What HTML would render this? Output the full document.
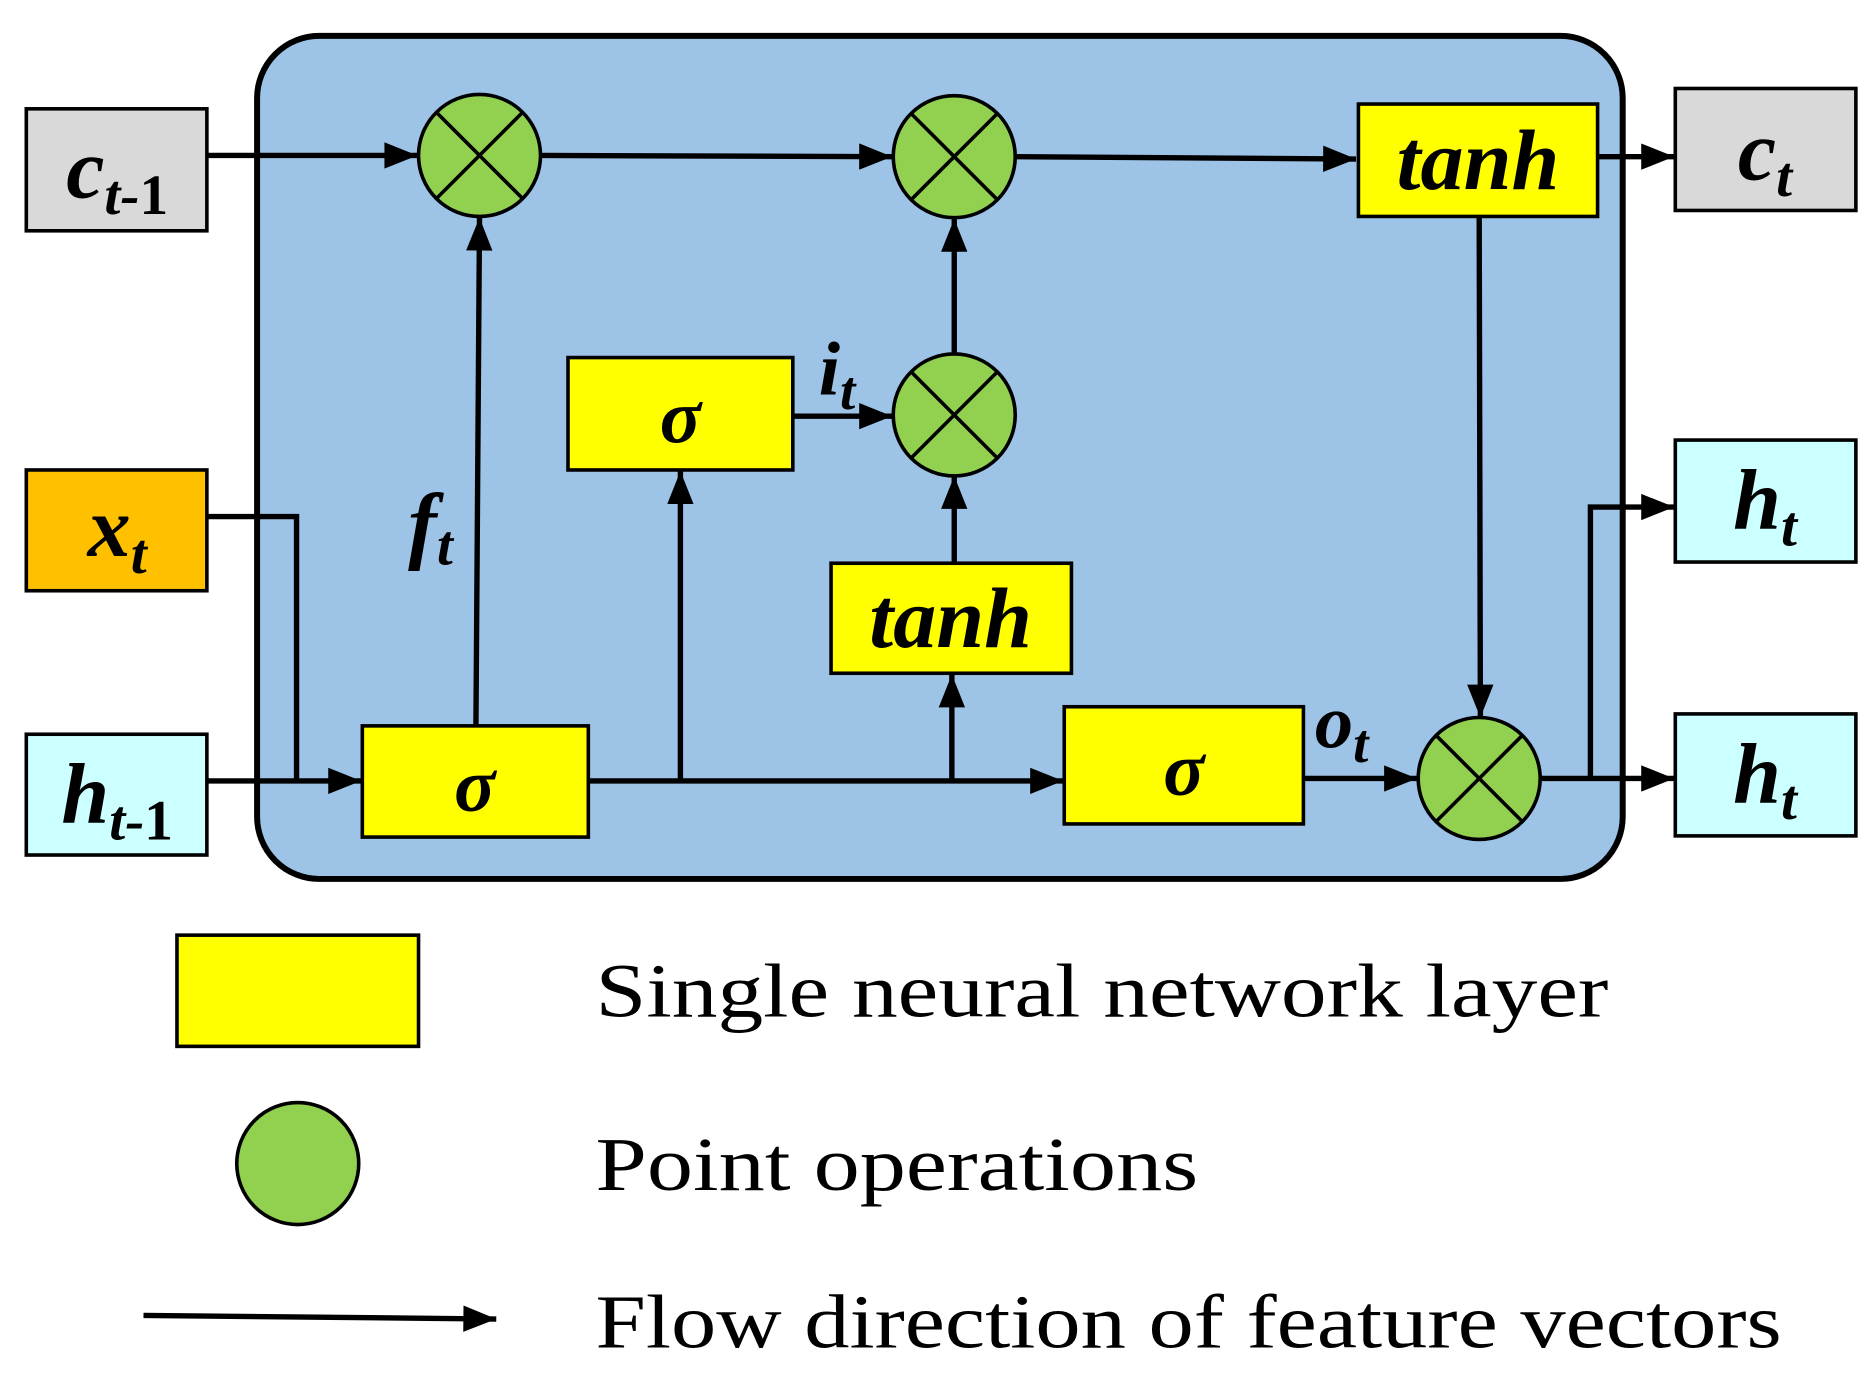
<!DOCTYPE html>
<html><head><style>html,body{margin:0;padding:0;background:#fff}svg{display:block}</style></head>
<body>
<svg width="1875" height="1380" viewBox="0 0 1568 1154" preserveAspectRatio="none" xmlns="http://www.w3.org/2000/svg">
<defs>
<marker id="b" viewBox="0 0 10 8" refX="10" refY="4" markerWidth="32" markerHeight="22" orient="auto" markerUnits="userSpaceOnUse"><path d="M0,0L10,4L0,8z" fill="#000"/></marker></defs>
<rect x="215" y="30" width="1142" height="705" rx="52" fill="#9DC3E6" stroke="#000" stroke-width="5"/>
<g stroke="#000" stroke-width="3">
<rect x="22" y="91" width="151" height="102" fill="#D9D9D9"/>
<rect x="22" y="393" width="151" height="101" fill="#FFC000"/>
<rect x="22" y="614" width="151" height="101" fill="#CCFFFF"/>
<rect x="1401" y="74" width="151" height="102" fill="#D9D9D9"/>
<rect x="1401" y="368" width="151" height="102" fill="#CCFFFF"/>
<rect x="1401" y="597" width="151" height="102" fill="#CCFFFF"/>
<rect x="1136" y="87" width="200" height="94" fill="#FFFF00"/>
<rect x="475" y="299" width="188" height="94" fill="#FFFF00"/>
<rect x="695" y="471" width="201" height="92" fill="#FFFF00"/>
<rect x="303" y="607" width="189" height="93" fill="#FFFF00"/>
<rect x="890" y="591" width="200" height="98" fill="#FFFF00"/>
<rect x="148" y="782" width="202" height="93" fill="#FFFF00"/>
</g>
<g fill="none" stroke="#000" stroke-width="4.5">
<path d="M173,130H349" marker-end="url(#b)"/>
<path d="M452,130L746,131" marker-end="url(#b)"/>
<path d="M849,131L1134,133" marker-end="url(#b)"/>
<path d="M1336,131H1400" marker-end="url(#b)"/>
<path d="M1237,181L1238,600" marker-end="url(#b)"/>
<path d="M173,432H248V654"/>
<path d="M173,653H302" marker-end="url(#b)"/>
<path d="M398,607L401,182" marker-end="url(#b)"/>
<path d="M492,653H889" marker-end="url(#b)"/>
<path d="M569,653V394" marker-end="url(#b)"/>
<path d="M796,653V564" marker-end="url(#b)"/>
<path d="M798,471V398" marker-end="url(#b)"/>
<path d="M663,348H746" marker-end="url(#b)"/>
<path d="M798,296V183" marker-end="url(#b)"/>
<path d="M1090,651H1185" marker-end="url(#b)"/>
<path d="M1288,651H1400" marker-end="url(#b)"/>
<path d="M1330,651V424H1400" marker-end="url(#b)"/>
<path d="M120,1100L415,1103" marker-end="url(#b)"/>
</g>
<g stroke="#000" stroke-width="3" fill="#92D050">
<circle cx="401" cy="130" r="51"/><circle cx="798" cy="131" r="51"/><circle cx="798" cy="347" r="51"/><circle cx="1237" cy="651" r="51"/><circle cx="249" cy="973" r="51"/>
</g>
<g stroke="#000" stroke-width="3">
<path d="M365,94L437,166M437,94L365,166"/><path d="M762,95L834,167M834,95L762,167"/><path d="M762,311L834,383M834,311L762,383"/><path d="M1201,615L1273,687M1273,615L1201,687"/>
</g>
<g font-family="Liberation Serif, serif" font-weight="bold" font-style="italic" fill="#000" text-anchor="middle">
<text x="98" y="165" font-size="72">c<tspan font-size="48" dy="14">t-<tspan font-style="normal">1</tspan></tspan></text>
<text x="98" y="465" font-size="72">x<tspan font-size="48" dy="14">t</tspan></text>
<text x="98" y="688" font-size="72">h<tspan font-size="48" dy="14">t-<tspan font-style="normal">1</tspan></tspan></text>
<text x="1476" y="150" font-size="72">c<tspan font-size="48" dy="14">t</tspan></text>
<text x="1476" y="442" font-size="72">h<tspan font-size="48" dy="14">t</tspan></text>
<text x="1476" y="671" font-size="72">h<tspan font-size="48" dy="14">t</tspan></text>
<text x="1236" y="158" font-size="72">tanh</text>
<text x="795" y="541" font-size="72">tanh</text>
<text x="569" y="370" font-size="64">σ</text>
<text x="397" y="678" font-size="64">σ</text>
<text x="990" y="665" font-size="64">σ</text>
<text x="360" y="462" font-size="72">f<tspan font-size="48" dy="10">t</tspan></text>
<text x="700" y="330" font-size="64">i<tspan font-size="46" dy="12">t</tspan></text>
<text x="1122" y="625" font-size="64">o<tspan font-size="46" dy="12">t</tspan></text>
</g>
<g font-family="Liberation Serif, serif" font-size="64" fill="#000">
<text x="498" y="850" textLength="847" lengthAdjust="spacingAndGlyphs">Single neural network layer</text>
<text x="498" y="995" textLength="504" lengthAdjust="spacingAndGlyphs">Point operations</text>
<text x="498" y="1127" textLength="992" lengthAdjust="spacingAndGlyphs">Flow direction of feature vectors</text>
</g>
</svg>
</body></html>
